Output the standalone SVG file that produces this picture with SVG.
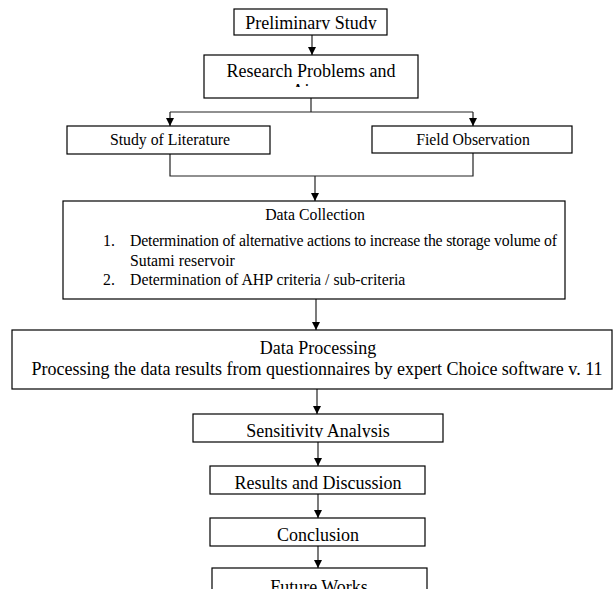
<svg xmlns="http://www.w3.org/2000/svg" width="614" height="589" viewBox="0 0 614 589">
<style>
.box{fill:#fff;stroke:#000;stroke-width:1.2}
.ln{fill:none;stroke:#222;stroke-width:1.2}
.t{font-family:"Liberation Serif","Times New Roman",serif;fill:#000}
.t16{font-size:18px}
.t14{font-size:15.8px}
.c{text-anchor:middle}
</style>
<defs>
<marker id="ah" markerWidth="9" markerHeight="9" refX="8" refY="4" orient="auto" markerUnits="userSpaceOnUse">
<path d="M0,0 L8,4 L0,8 z" fill="#000"/>
</marker>
<clipPath id="cp1"><rect x="234" y="9" width="153" height="20.5"/></clipPath>
<clipPath id="cp2"><rect x="204" y="55" width="214" height="32"/></clipPath>
<clipPath id="cp3"><rect x="193" y="414" width="250" height="23.5"/></clipPath>
</defs>
<g id="connectors">
<line class="ln" x1="312" y1="35" x2="312" y2="55" marker-end="url(#ah)"/>
<polyline class="ln" points="311,98 311,112"/>
<polyline class="ln" points="170,112 473,112"/>
<line class="ln" x1="170" y1="112" x2="170" y2="126" marker-end="url(#ah)"/>
<line class="ln" x1="473" y1="112" x2="473" y2="126" marker-end="url(#ah)"/>
<polyline class="ln" points="170,154 170,176 473,176 473,153"/>
<line class="ln" x1="315" y1="176" x2="315" y2="201" marker-end="url(#ah)"/>
<line class="ln" x1="316" y1="299" x2="316" y2="330" marker-end="url(#ah)"/>
<line class="ln" x1="317" y1="389" x2="317" y2="414" marker-end="url(#ah)"/>
<line class="ln" x1="318" y1="442" x2="318" y2="466" marker-end="url(#ah)"/>
<line class="ln" x1="318" y1="494" x2="318" y2="518" marker-end="url(#ah)"/>
<line class="ln" x1="318" y1="546" x2="318" y2="568" marker-end="url(#ah)"/>
</g>
<g id="preliminary">
<rect class="box" x="234" y="9" width="153" height="26"/>
<text class="t t16 c" x="311" y="29" clip-path="url(#cp1)">Preliminary Study</text>
</g>
<g id="research">
<rect class="box" x="204" y="55" width="214" height="43"/>
<g clip-path="url(#cp2)">
<text class="t t16 c" x="311" y="77">Research Problems and</text>
<text class="t t16 c" x="311" y="97">Aims</text>
</g>
</g>
<g id="literature">
<rect class="box" x="67" y="126" width="203" height="28"/>
<text class="t t14 c" x="170" y="145">Study of Literature</text>
</g>
<g id="field">
<rect class="box" x="372" y="126" width="200" height="27"/>
<text class="t t14 c" x="473" y="145">Field Observation</text>
</g>
<g id="collection">
<rect class="box" x="63" y="201" width="502" height="98"/>
<text class="t t14 c" x="315" y="220">Data Collection</text>
<text class="t t14" x="103" y="246">1.</text>
<text class="t t14" x="130" y="246" textLength="427" lengthAdjust="spacing">Determination of alternative actions to increase the storage volume of</text>
<text class="t t14" x="130" y="266">Sutami reservoir</text>
<text class="t t14" x="103" y="285">2.</text>
<text class="t t14" x="130" y="285">Determination of AHP criteria / sub-criteria</text>
</g>
<g id="processing">
<rect class="box" x="12" y="330" width="600" height="59"/>
<text class="t t16 c" x="318" y="354">Data Processing</text>
<text class="t t16 c" x="317" y="375">Processing the data results from questionnaires by expert Choice software v. 11</text>
</g>
<g id="sensitivity">
<rect class="box" x="193" y="414" width="250" height="28"/>
<text class="t t16 c" x="318" y="437" clip-path="url(#cp3)">Sensitivity Analysis</text>
</g>
<g id="results">
<rect class="box" x="210" y="466" width="215" height="28"/>
<text class="t t16 c" x="318" y="489">Results and Discussion</text>
</g>
<g id="conclusion">
<rect class="box" x="210" y="518" width="215" height="28"/>
<text class="t t16 c" x="318" y="541">Conclusion</text>
</g>
<g id="future">
<rect class="box" x="212" y="568" width="215" height="30"/>
<text class="t t16 c" x="319" y="593">Future Works</text>
</g>
</svg>
